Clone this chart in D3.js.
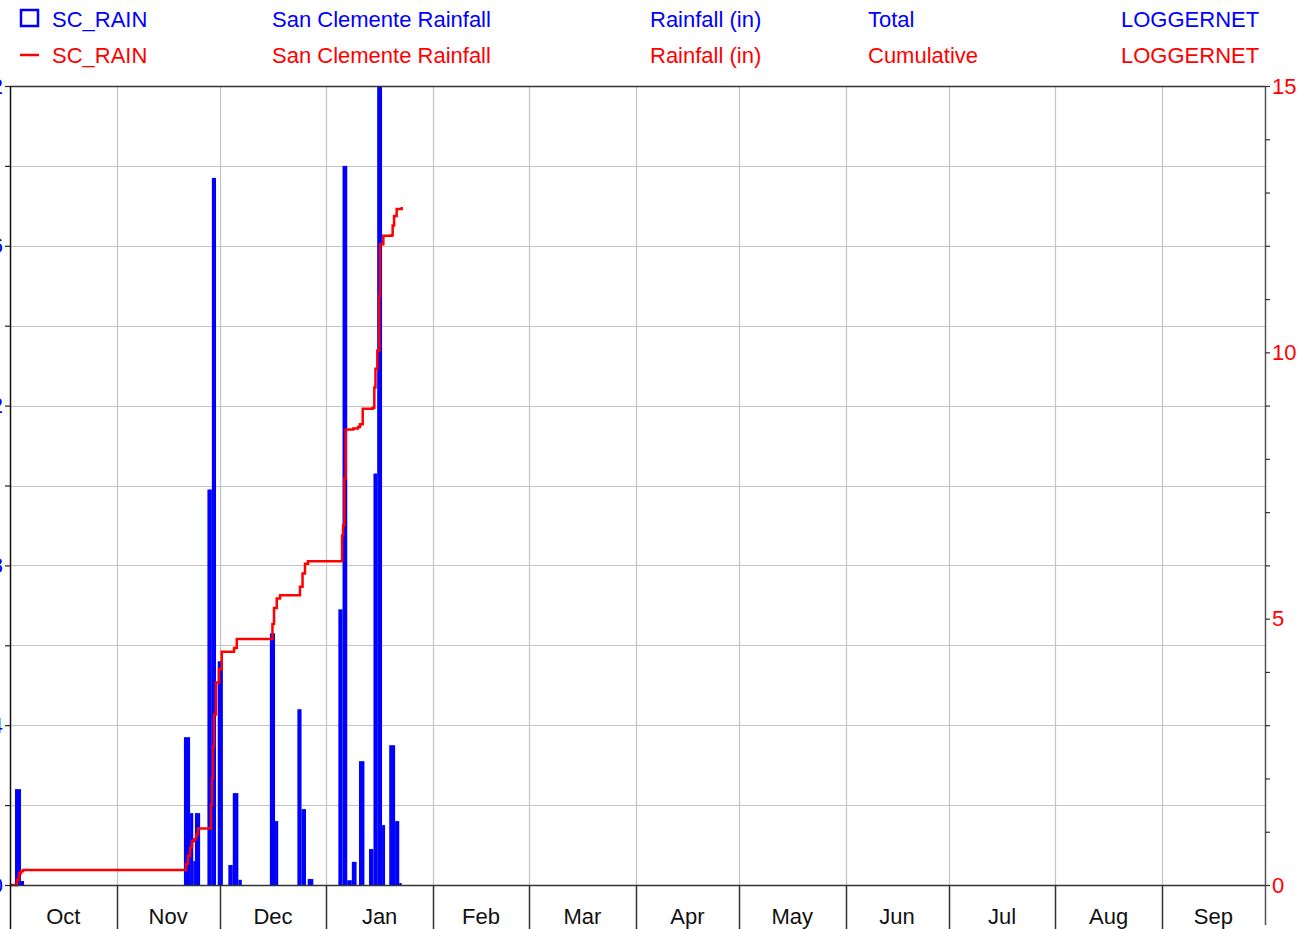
<!DOCTYPE html>
<html>
<head>
<meta charset="utf-8">
<script src="https://cdn.jsdelivr.net/npm/d3@7"></script>
<style>
  html, body { margin: 0; padding: 0; background: #fff; overflow: hidden; }
  svg { display: block; font-family: "Liberation Sans", Arial, sans-serif; }
</style>
</head>
<body>
<svg id="chart" width="1308" height="929"></svg>
<script>
// legend rows (series name, description, units, type, source)
const legendTotal = ["SC_RAIN", "San Clemente Rainfall", "Rainfall (in)", "Total", "LOGGERNET"];
const legendCumul = ["SC_RAIN", "San Clemente Rainfall", "Rainfall (in)", "Cumulative", "LOGGERNET"];

// water year shown on the time axis
const yearStart = "2022-10-01T00:00";
const yearEnd = "2023-10-01T00:00";

// rainfall totals (in), each over an interval [rainStart, rainEnd]
const rainStart = [
    "2022-10-02T11:00", "2022-10-04T05:00",
    "2022-11-20T14:00", "2022-11-22T09:00", "2022-11-23T07:00", "2022-11-23T19:00",
    "2022-11-27T10:00", "2022-11-28T17:00", "2022-11-30T10:00",
    "2022-12-03T12:00", "2022-12-04T19:00", "2022-12-06T10:00",
    "2022-12-15T14:00", "2022-12-17T02:00",
    "2022-12-23T14:00", "2022-12-24T19:00", "2022-12-26T14:00",
    "2023-01-04T12:00", "2023-01-05T17:00", "2023-01-07T02:00", "2023-01-08T10:00",
    "2023-01-10T12:00", "2023-01-13T10:00", "2023-01-14T17:00", "2023-01-15T19:00",
    "2023-01-17T05:00", "2023-01-19T07:00", "2023-01-21T00:00", "2023-01-22T05:00"
];
const rainEnd = [
    "2022-10-04T05:00", "2022-10-05T02:00",
    "2022-11-22T09:00", "2022-11-23T07:00", "2022-11-23T19:00", "2022-11-25T07:00",
    "2022-11-28T17:00", "2022-11-29T22:00", "2022-12-01T22:00",
    "2022-12-04T19:00", "2022-12-06T10:00", "2022-12-07T10:00",
    "2022-12-17T02:00", "2022-12-18T00:00",
    "2022-12-24T19:00", "2022-12-26T02:00", "2022-12-28T05:00",
    "2023-01-05T17:00", "2023-01-07T02:00", "2023-01-08T10:00", "2023-01-09T19:00",
    "2023-01-12T02:00", "2023-01-14T17:00", "2023-01-15T19:00", "2023-01-17T05:00",
    "2023-01-18T02:00", "2023-01-21T00:00", "2023-01-22T05:00", "2023-01-22T22:00"
];
const rainTotal = [
    0.24, 0.01,
    0.37, 0.18, 0.06, 0.18,
    0.99, 1.77, 0.56,
    0.05, 0.23, 0.013,
    0.63, 0.16,
    0.44, 0.19, 0.015,
    0.69, 1.80, 0.012, 0.058,
    0.31, 0.09, 1.03, 2.00,
    0.15, 0.35, 0.16, 0.005
];

// cumulative rainfall (in)
const cumulTime = [
    "2022-10-01T00:00", "2022-10-02T11:00", "2022-10-03T01:00", "2022-10-03T15:00", "2022-10-04T05:00", "2022-10-04T19:00",
    "2022-11-20T14:00", "2022-11-21T05:00", "2022-11-21T18:00", "2022-11-22T09:00", "2022-11-22T23:00", "2022-11-23T12:00",
    "2022-11-24T02:00", "2022-11-24T16:00", "2022-11-28T04:00", "2022-11-28T11:00", "2022-11-28T18:00", "2022-11-29T01:00",
    "2022-11-29T08:00", "2022-11-29T22:00", "2022-11-30T19:00", "2022-12-01T14:00", "2022-12-04T21:00", "2022-12-05T04:00",
    "2022-12-05T23:00", "2022-12-15T22:00", "2022-12-16T08:00", "2022-12-16T19:00", "2022-12-17T14:00", "2022-12-18T13:00",
    "2022-12-23T21:00", "2022-12-24T08:00", "2022-12-25T02:00", "2022-12-25T19:00", "2022-12-26T16:00", "2023-01-05T12:00",
    "2023-01-05T14:00", "2023-01-05T21:00", "2023-01-06T06:00", "2023-01-06T15:00", "2023-01-08T20:00", "2023-01-10T05:00",
    "2023-01-10T19:00", "2023-01-11T14:00", "2023-01-14T12:00", "2023-01-14T23:00", "2023-01-15T07:00", "2023-01-15T20:00",
    "2023-01-16T10:00", "2023-01-16T15:00", "2023-01-17T14:00", "2023-01-20T00:00", "2023-01-20T07:00", "2023-01-20T17:00",
    "2023-01-21T11:00", "2023-01-22T22:00"
];
const cumulValue = [
    0, 0, 0.10, 0.22, 0.26, 0.28,
    0.28, 0.40, 0.55, 0.70, 0.82, 0.86,
    0.95, 1.06, 1.06, 1.50, 2.00, 2.60,
    3.20, 3.80, 4.05, 4.38, 4.38, 4.45,
    4.62, 4.62, 4.90, 5.20, 5.38, 5.44,
    5.44, 5.60, 5.85, 6.03, 6.08, 6.08,
    6.56, 6.75, 7.63, 8.55, 8.57, 8.60,
    8.65, 8.94, 8.96, 9.34, 9.69, 10.03,
    11.06, 12.03, 12.19, 12.20, 12.38, 12.56,
    12.69, 12.73
];

const leftTicks = d3.range(11).map(i => i / 5);     // 0 .. 2 by 0.2
const rightTicks = d3.range(16);                     // 0 .. 15

const width = 1308, height = 929;
const margin = {top: 86, right: 43, bottom: 44, left: 10};
const blue = "#0000ff", red = "#ff0000";

const parse = d3.timeParse("%Y-%m-%dT%H:%M");
const svg = d3.select("#chart");

const x = d3.scaleTime()
    .domain([parse(yearStart), parse(yearEnd)])
    .range([margin.left, width - margin.right]);
const yL = d3.scaleLinear().domain([0, 2]).range([height - margin.bottom, margin.top]);
const yR = d3.scaleLinear().domain([0, 15]).range([height - margin.bottom, margin.top]);

const x0 = margin.left, x1 = width - margin.right;
const yTop = margin.top, yBot = height - margin.bottom;

// horizontal grid (left axis ticks)
svg.append("g")
    .selectAll("line")
    .data(leftTicks.filter(d => d > 0 && d < 2))
    .join("line")
    .attr("x1", x0).attr("x2", x1)
    .attr("y1", d => Math.round(yL(d)) + 0.5).attr("y2", d => Math.round(yL(d)) + 0.5)
    .attr("stroke", "#c4c4c4").attr("stroke-width", 1.2);

// vertical month grid
const months = d3.timeMonth.range(parse(yearStart), parse(yearEnd));
svg.append("g")
    .selectAll("line")
    .data(months.slice(1))
    .join("line")
    .attr("x1", d => Math.round(x(d)) + 0.5).attr("x2", d => Math.round(x(d)) + 0.5)
    .attr("y1", yTop).attr("y2", yBot)
    .attr("stroke", "#c4c4c4").attr("stroke-width", 1.2);

// rainfall total bars
const bars = rainTotal.map((v, i) => ({start: parse(rainStart[i]), end: parse(rainEnd[i]), value: v}));
svg.append("g")
    .selectAll("rect")
    .data(bars)
    .join("rect")
    .attr("x", d => x(d.start))
    .attr("width", d => x(d.end) - x(d.start))
    .attr("y", d => yL(d.value))
    .attr("height", d => yL(0) - yL(d.value))
    .attr("fill", blue);

// cumulative line
const cumul = cumulValue.map((v, i) => ({t: parse(cumulTime[i]), v}));
svg.append("path")
    .datum(cumul)
    .attr("fill", "none")
    .attr("stroke", red)
    .attr("stroke-width", 2.5)
    .attr("stroke-linejoin", "miter")
    .attr("d", d3.line().x(d => x(d.t)).y(d => yR(d.v)).curve(d3.curveStepAfter));

// frame
svg.append("line").attr("x1", x0).attr("x2", x1).attr("y1", yTop + 0.5).attr("y2", yTop + 0.5)
    .attr("stroke", "#333").attr("stroke-width", 1.5);
svg.append("line").attr("x1", x0).attr("x2", x1).attr("y1", yBot + 0.5).attr("y2", yBot + 0.5)
    .attr("stroke", "#333").attr("stroke-width", 1.5);
svg.append("line").attr("x1", x0 + 0.5).attr("x2", x0 + 0.5).attr("y1", yTop).attr("y2", height)
    .attr("stroke", "#111").attr("stroke-width", 1.5);
svg.append("line").attr("x1", x1 + 0.5).attr("x2", x1 + 0.5).attr("y1", yTop).attr("y2", height - 4)
    .attr("stroke", "#555").attr("stroke-width", 1.5);

// left axis (blue)
const fmtL = d3.format("~g");
const gL = svg.append("g")
    .attr("transform", `translate(${x0},0)`)
    .call(d3.axisLeft(yL).tickValues(leftTicks).tickSize(5).tickPadding(2)
        .tickFormat(d => Math.round(d * 5) % 2 === 0 ? fmtL(+d.toFixed(1)) : ""));
gL.select(".domain").remove();
gL.selectAll(".tick line").attr("stroke", "#222").attr("stroke-width", 1.2);
gL.selectAll(".tick text").attr("fill", blue).attr("font-size", 22)
    .attr("font-family", "'Liberation Sans', Arial, sans-serif");

// right axis (red)
const gR = svg.append("g")
    .attr("transform", `translate(${x1},0)`)
    .call(d3.axisRight(yR).tickValues(rightTicks).tickSize(5).tickPadding(2)
        .tickFormat(d => d % 5 === 0 ? d : ""));
gR.select(".domain").remove();
gR.selectAll(".tick line").attr("stroke", "#333").attr("stroke-width", 1.2);
gR.selectAll(".tick text").attr("fill", red).attr("font-size", 22)
    .attr("font-family", "'Liberation Sans', Arial, sans-serif");

// bottom: month separators below axis and month names
svg.append("g")
    .selectAll("line")
    .data(months.slice(1))
    .join("line")
    .attr("x1", d => Math.round(x(d)) + 0.5).attr("x2", d => Math.round(x(d)) + 0.5)
    .attr("y1", yBot).attr("y2", height)
    .attr("stroke", "#333").attr("stroke-width", 1.5);

svg.append("g")
    .selectAll("text")
    .data(months)
    .join("text")
    .attr("x", d => (x(d) + x(d3.timeMonth.offset(d, 1))) / 2)
    .attr("y", yBot + 39)
    .attr("text-anchor", "middle")
    .attr("font-size", 22)
    .attr("fill", "#111")
    .text(d3.timeFormat("%b"));

// legend
const colX = [52, 272, 650, 868, 1121];
const legend = svg.append("g").attr("font-size", 22);
[[legendTotal, blue, 27], [legendCumul, red, 63]].forEach(([row, color, base]) => {
    legend.append("g")
        .selectAll("text")
        .data(row)
        .join("text")
        .attr("x", (d, i) => colX[i])
        .attr("y", base)
        .attr("fill", color)
        .text(d => d);
});
legend.append("rect")
    .attr("x", 21).attr("y", 10).attr("width", 17).attr("height", 16)
    .attr("fill", "none").attr("stroke", blue).attr("stroke-width", 2.5);
legend.append("line")
    .attr("x1", 20).attr("x2", 39).attr("y1", 55).attr("y2", 55)
    .attr("stroke", red).attr("stroke-width", 2.5);
</script>
</body>
</html>
